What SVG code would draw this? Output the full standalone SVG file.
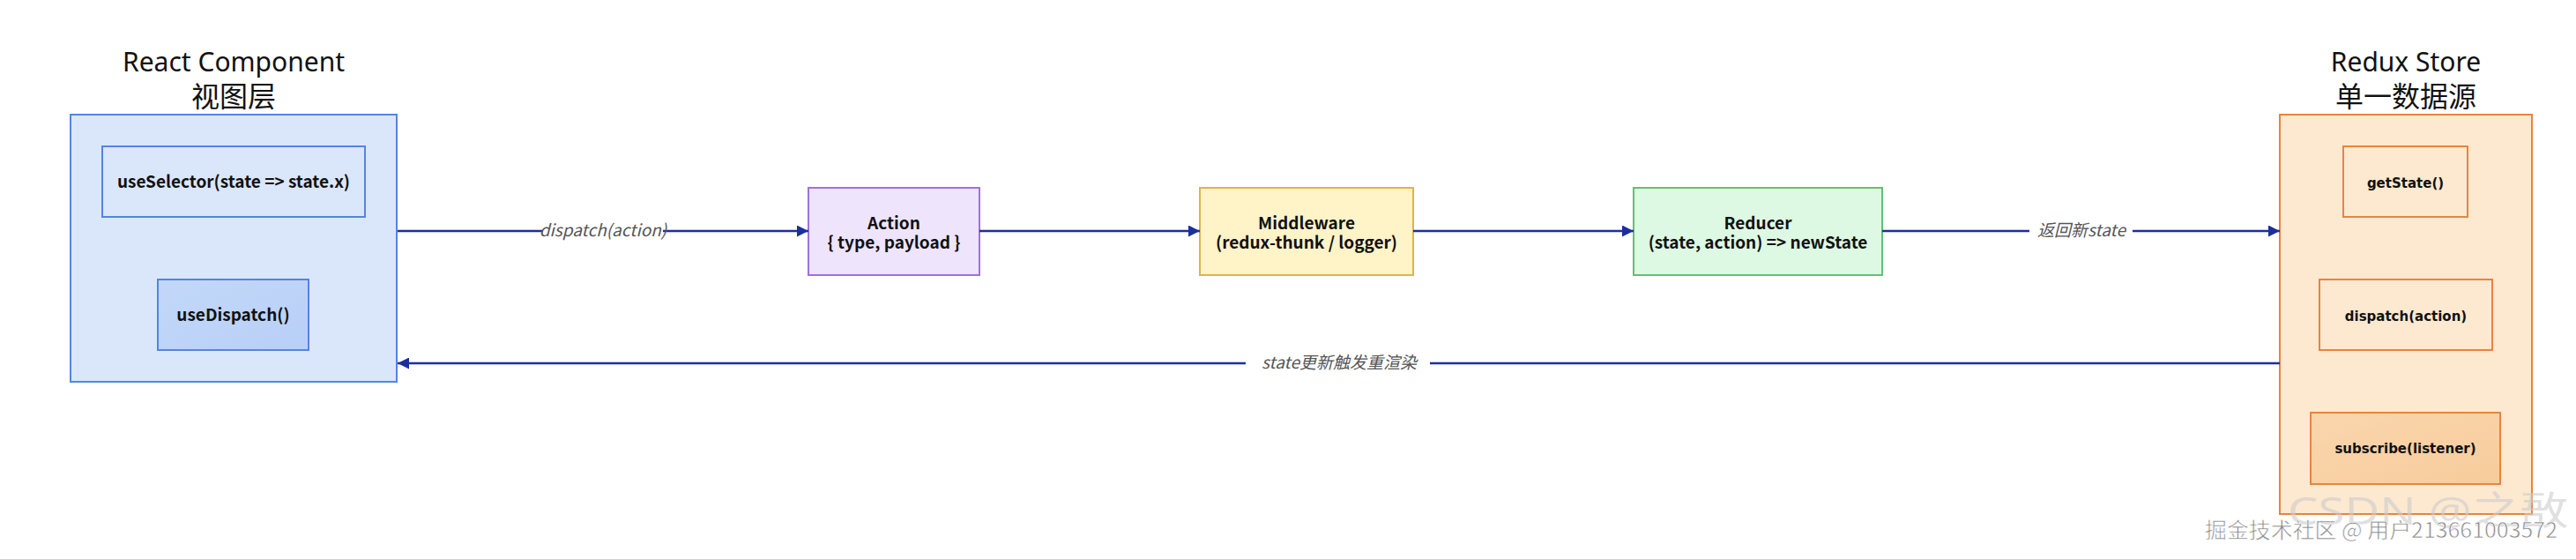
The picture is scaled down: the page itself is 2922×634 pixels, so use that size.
<svg xmlns="http://www.w3.org/2000/svg" width="2922" height="634" viewBox="0 0 2922 634">
<style>
.title{font-family:"Noto Sans","Noto Sans CJK SC",sans-serif;font-size:30px;fill:#111;text-anchor:middle}
.cjk{font-family:"Noto Sans CJK SC",sans-serif;font-size:32px}
.lbl{font-family:"Noto Sans CJK SC","Noto Sans",sans-serif;font-weight:bold;font-size:19px;fill:#111;text-anchor:middle}
.slbl{font-family:"DejaVu Sans",sans-serif;font-weight:bold;font-size:15px;fill:#111;text-anchor:middle}
.elbl{font-family:"Noto Sans CJK SC","Noto Sans",sans-serif;font-style:italic;font-size:19px;fill:#555;text-anchor:middle}
.edge{stroke:#1b2f9e;stroke-width:2.5;fill:none}
.blue{fill:#dae7fb;stroke:#5484e4;stroke-width:2}
.orange{fill:#fde9d0;stroke:#e8843e;stroke-width:2}
</style>
<defs>
<marker id="arr" viewBox="0 0 13 13" refX="13" refY="6.5" markerWidth="13" markerHeight="13" markerUnits="userSpaceOnUse" orient="auto">
<path d="M0,0 L13,6.5 L0,13 Z" fill="#1b2f9e"/>
</marker>
<linearGradient id="gBlue" x1="0" y1="0" x2="1" y2="1">
<stop offset="0" stop-color="#c3d8f9"/><stop offset="1" stop-color="#b8cff6"/>
</linearGradient>
<linearGradient id="gOrange" x1="0" y1="0" x2="1" y2="1">
<stop offset="0" stop-color="#fad6ad"/><stop offset="1" stop-color="#f7cc9c"/>
</linearGradient>
</defs>
<rect width="2922" height="634" fill="#ffffff"/>

<g id="react-component">
<text class="title" x="265" y="81">React Component</text>
<text class="title cjk" x="265" y="121">视图层</text>
<rect class="blue" x="80" y="130" width="370" height="303"/>
</g>
<g id="use-selector">
<rect class="blue" x="116" y="166" width="298" height="80"/>
<text class="lbl" x="265" y="213">useSelector(state =&gt; state.x)</text>
</g>
<g id="use-dispatch">
<rect x="179" y="317" width="171" height="80" fill="url(#gBlue)" stroke="#5484e4" stroke-width="2"/>
<text class="lbl" x="264.5" y="364">useDispatch()</text>
</g>

<g id="action">
<rect x="917" y="213" width="194" height="99" fill="#eee4fc" stroke="#a070e2" stroke-width="2"/>
<text class="lbl" x="1014" y="260">Action</text>
<text class="lbl" x="1014" y="282">{ type, payload }</text>
</g>
<g id="middleware">
<rect x="1361" y="213" width="242" height="99" fill="#fff3c8" stroke="#dcb54a" stroke-width="2"/>
<text class="lbl" x="1482" y="260">Middleware</text>
<text class="lbl" x="1482" y="282">(redux-thunk / logger)</text>
</g>
<g id="reducer">
<rect x="1853" y="213" width="282" height="99" fill="#ddf9e4" stroke="#63c074" stroke-width="2"/>
<text class="lbl" x="1994" y="260">Reducer</text>
<text class="lbl" x="1994" y="282">(state, action) =&gt; newState</text>
</g>

<g id="redux-store">
<text class="title" x="2729" y="81">Redux Store</text>
<text class="title cjk" x="2729" y="121">单一数据源</text>
<rect class="orange" x="2586" y="130" width="286" height="453"/>
</g>
<g id="get-state">
<rect class="orange" x="2658" y="166" width="141" height="80"/>
<text class="slbl" x="2728.5" y="213">getState()</text>
</g>
<g id="store-dispatch">
<rect class="orange" x="2631" y="317" width="196" height="80"/>
<text class="slbl" x="2729" y="364">dispatch(action)</text>
</g>
<g id="subscribe">
<rect x="2621" y="468" width="215" height="81" fill="url(#gOrange)" stroke="#e8843e" stroke-width="2"/>
<text class="slbl" x="2728.5" y="514">subscribe(listener)</text>
</g>

<g id="connectors">
<path class="edge" d="M451,262 H917" marker-end="url(#arr)"/>
<path class="edge" d="M1111,262 H1361" marker-end="url(#arr)"/>
<path class="edge" d="M1603,262 H1853" marker-end="url(#arr)"/>
<path class="edge" d="M2135,262 H2586" marker-end="url(#arr)"/>
<path class="edge" d="M2586,412 H451" marker-end="url(#arr)"/>
<rect x="616" y="250" width="136" height="24" fill="#ffffff"/>
<text class="elbl" x="684" y="268">dispatch(action)</text>
<rect x="2302" y="250" width="117" height="24" fill="#ffffff"/>
<text class="elbl" x="2361" y="268">返回新state</text>
<rect x="1413" y="400" width="209" height="24" fill="#ffffff"/>
<text class="elbl" x="1519" y="418" textLength="176" lengthAdjust="spacing">state更新触发重渲染</text>
</g>

<text x="2595" y="595" font-family="Noto Sans, Noto Sans CJK SC, sans-serif" font-size="44" fill="#cccccc" fill-opacity="0.6" textLength="318" lengthAdjust="spacingAndGlyphs">CSDN @之敔</text>
<text x="2501" y="610" font-family="Noto Sans CJK SC, sans-serif" font-size="24" fill="#8a8a8a" stroke="#ffffff" stroke-width="0.6" textLength="400" lengthAdjust="spacingAndGlyphs">掘金技术社区 @ 用户213661003572</text>
</svg>
